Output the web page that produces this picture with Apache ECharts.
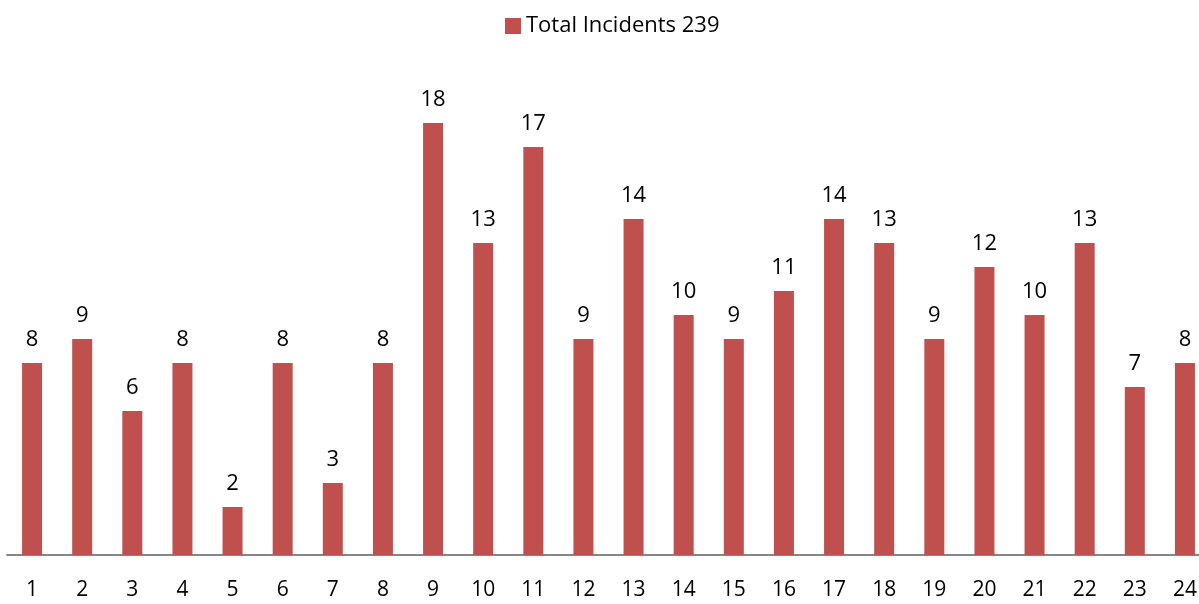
<!DOCTYPE html>
<html>
<head>
<meta charset="utf-8">
<script src="https://cdn.jsdelivr.net/npm/echarts@6/dist/echarts.min.js"></script>
<style>
  html, body { margin: 0; padding: 0; background: #fff; }
  #chart { width: 1199px; height: 604px; }
</style>
</head>
<body>
<div id="chart"></div>
<script>
  // hours of the day and incident counts
  const hours = ['1', '2', '3', '4', '5', '6', '7', '8', '9', '10', '11', '12',
    '13', '14', '15', '16', '17', '18', '19', '20', '21', '22', '23', '24']
  const incidents = [8, 9, 6, 8, 2, 8, 3, 8, 18, 13, 17, 9, 14, 10, 9, 11, 14, 13, 9, 12, 10, 13, 7, 8]
  const seriesName = 'Total Incidents 239'

  const font = 'Open Sans'
  const chart = echarts.init(document.getElementById('chart'))
  chart.setOption({
    animation: false,
    textStyle: { fontFamily: font },
    legend: {
      top: 10,
      left: 500,
      itemWidth: 16,
      itemHeight: 16,
      icon: 'rect',
      textStyle: { fontSize: 22, color: '#000', fontFamily: font },
      data: [seriesName]
    },
    grid: {
      left: 7,
      width: 1203,
      top: 75,
      bottom: 49,
      containLabel: false,
      outerBoundsMode: 'none'
    },
    xAxis: {
      type: 'category',
      data: hours,
      axisLine: { lineStyle: { color: '#868686', width: 2 } },
      axisTick: { show: false },
      axisLabel: { fontSize: 21, color: '#000', margin: 25 }
    },
    yAxis: {
      type: 'value',
      min: 0,
      max: 20,
      show: false,
      splitLine: { show: false }
    },
    series: [{
      name: seriesName,
      type: 'bar',
      data: incidents,
      barWidth: 20,
      itemStyle: { color: '#C0504D' },
      label: {
        show: true,
        position: 'top',
        distance: 12,
        fontSize: 22,
        color: '#000'
      }
    }]
  })
</script>
</body>
</html>
